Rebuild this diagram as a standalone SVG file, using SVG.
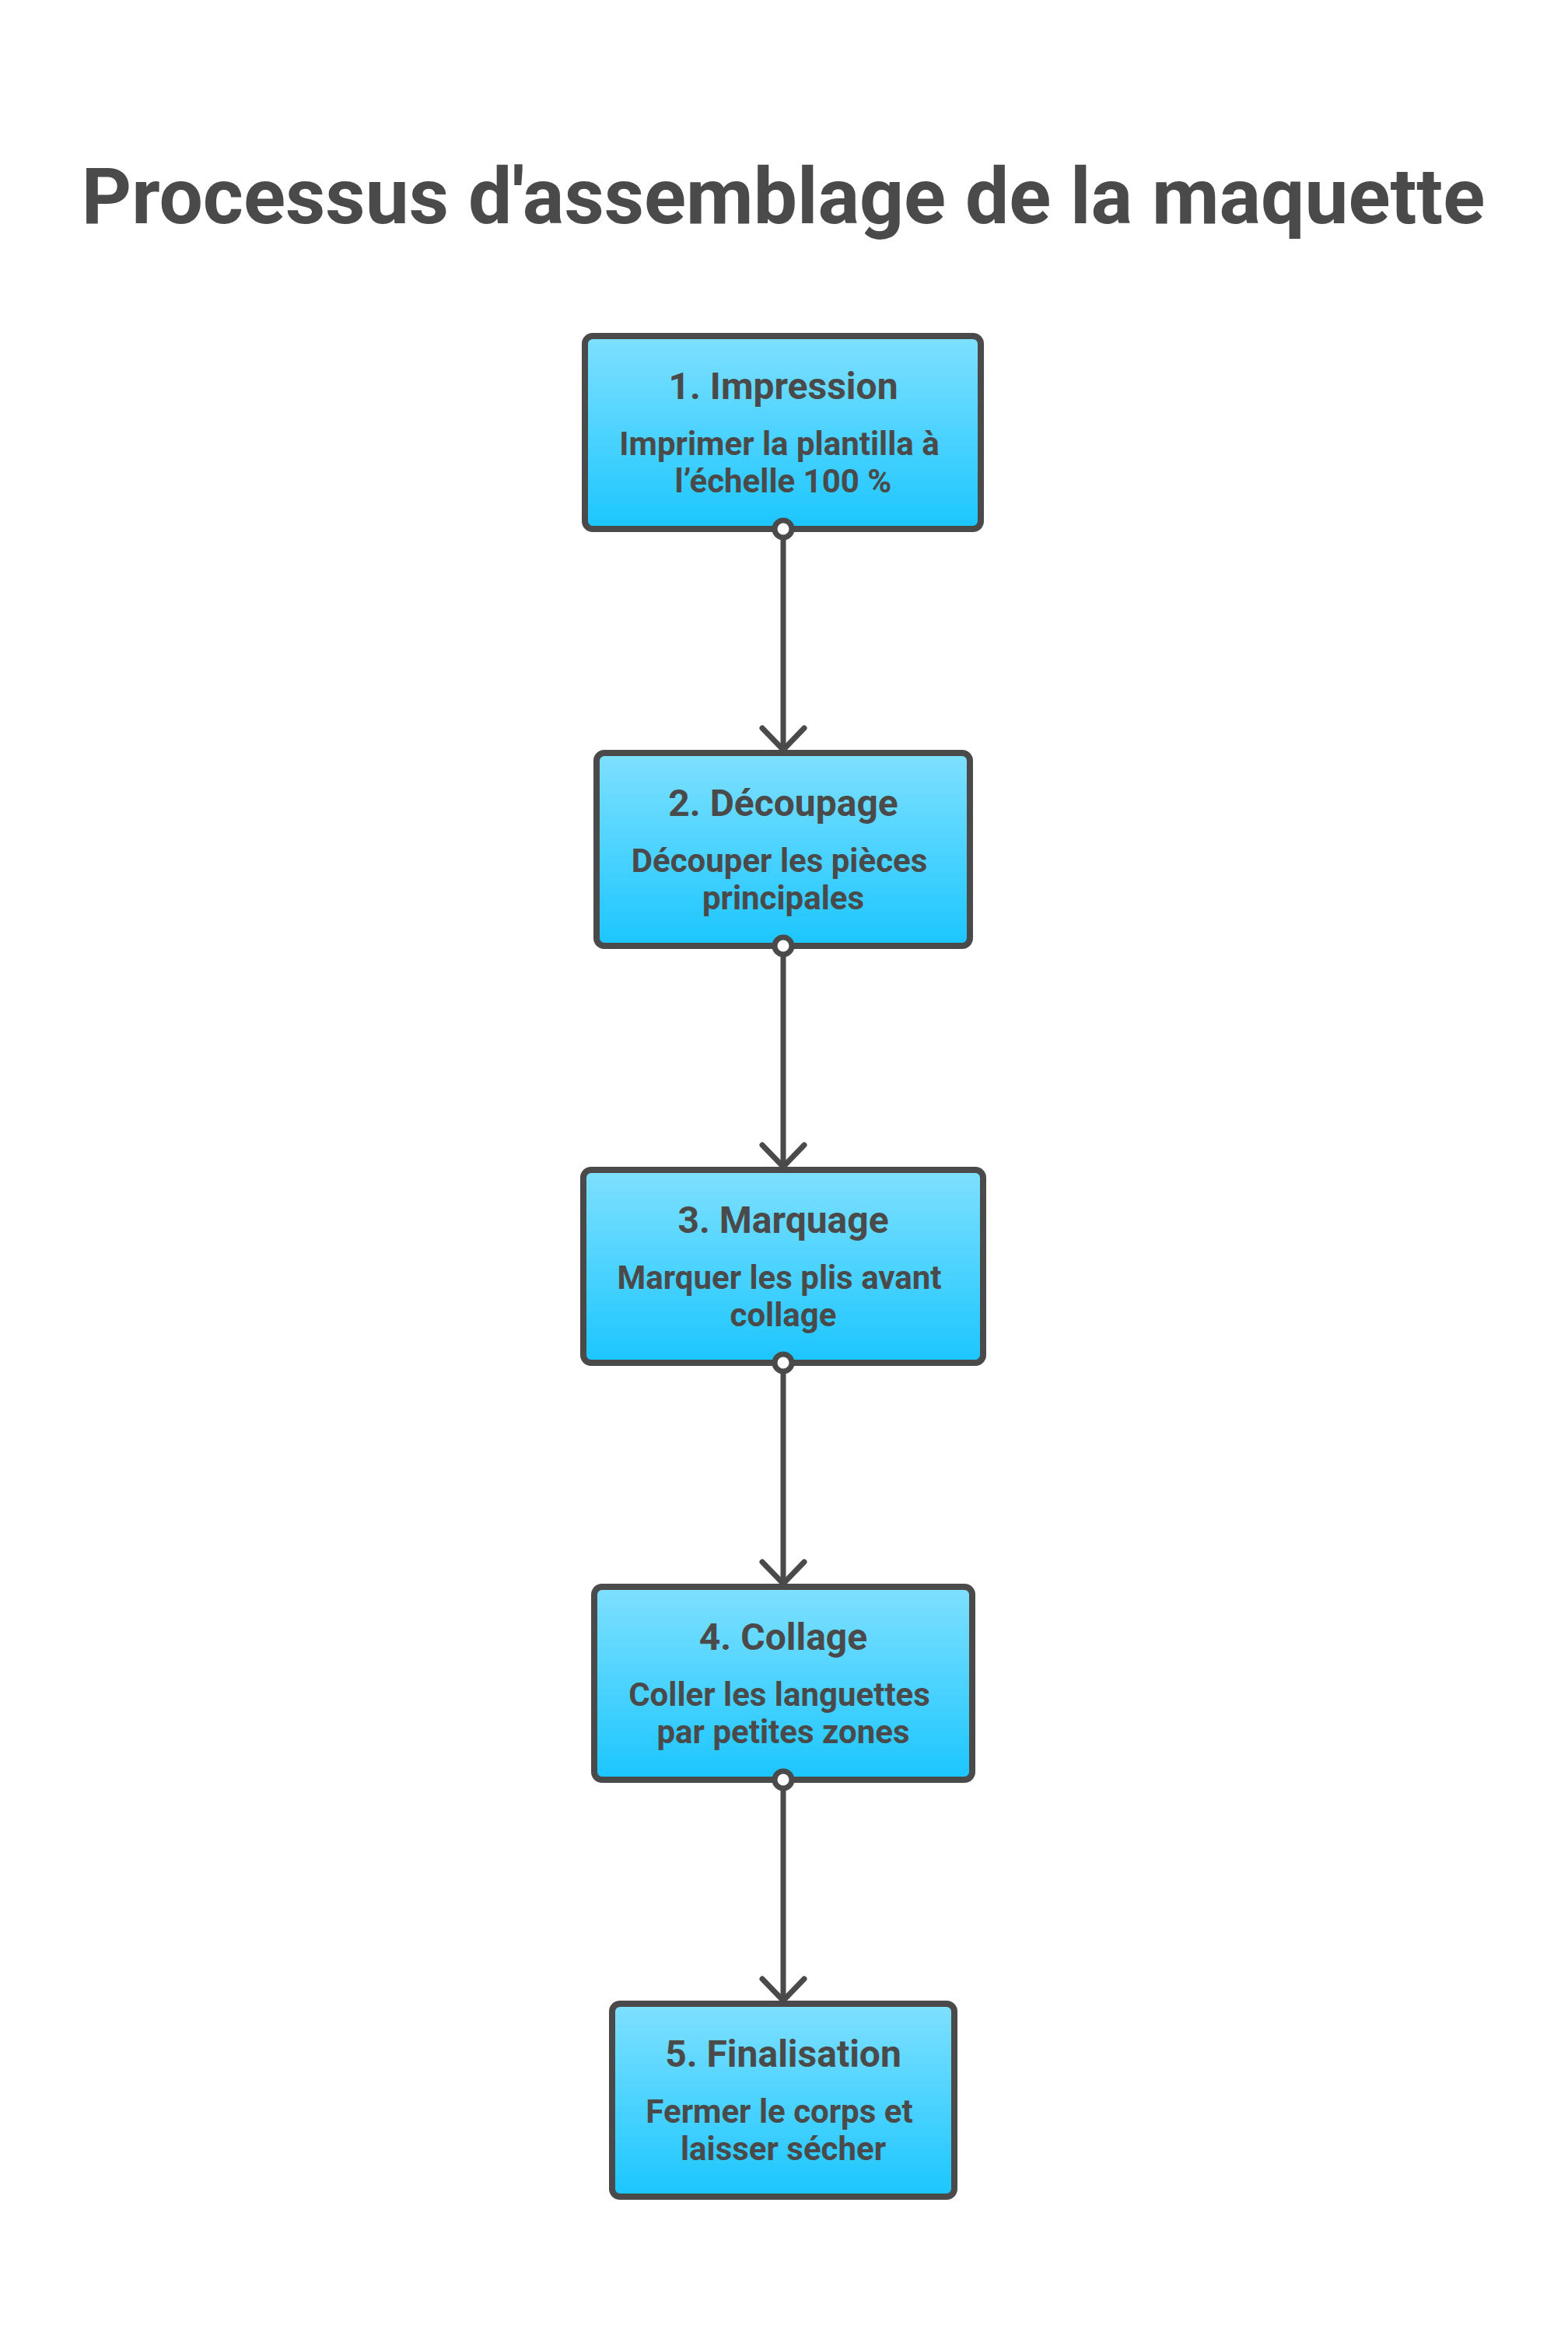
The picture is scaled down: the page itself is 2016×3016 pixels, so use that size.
<svg xmlns="http://www.w3.org/2000/svg" width="2016" height="3016" viewBox="0 0 2016 3016">
  <defs>
    <linearGradient id="boxFill" x1="0" y1="0" x2="0" y2="1">
      <stop offset="0" stop-color="#7fe0ff"/>
      <stop offset="1" stop-color="#1bc6fe"/>
    </linearGradient>
    <marker id="arrow" markerUnits="userSpaceOnUse" orient="auto" refX="0" refY="0" markerWidth="80" markerHeight="80" viewBox="-40 -40 80 80" overflow="visible">
      <path d="M-28,-27 L0,0 L-28,27" fill="none" stroke="#4a4a4a" stroke-width="7" stroke-linecap="round" stroke-linejoin="round"/>
    </marker>
    <marker id="dot" markerUnits="userSpaceOnUse" orient="auto" refX="0" refY="0" markerWidth="40" markerHeight="40" viewBox="-20 -20 40 40" overflow="visible">
      <circle cx="0" cy="0" r="11" fill="#ffffff" stroke="#4a4a4a" stroke-width="7"/>
    </marker>
    <style>
      .box { fill: url(#boxFill); stroke: #4a4a4a; stroke-width: 8; }
      .t { font-family: Roboto, "Liberation Sans", sans-serif; font-weight: 700; fill: #4a4a4a; text-anchor: middle; }
      .title { font-size: 100px; }
      .head { font-size: 48px; }
      .desc { font-size: 42px; }
      .conn { fill: none; stroke: #4a4a4a; stroke-width: 7; marker-start: url(#dot); marker-end: url(#arrow); }
    </style>
  </defs>
  <rect x="0" y="0" width="2016" height="3016" fill="#ffffff"/>
  <text class="t title" x="1007" y="287">Processus d'assemblage de la maquette</text>

  <g id="node-1">
    <rect class="box" x="752" y="432" width="509" height="248" rx="10"/>
    <text class="t head" x="1007" y="513">1. Impression</text>
    <text class="t desc" x="1002" y="585">Imprimer la plantilla à</text>
    <text class="t desc" x="1007" y="633">l’échelle 100 %</text>
  </g>
  <g id="node-2">
    <rect class="box" x="767" y="968" width="480" height="248" rx="10"/>
    <text class="t head" x="1007" y="1049">2. Découpage</text>
    <text class="t desc" x="1002" y="1121">Découper les pièces</text>
    <text class="t desc" x="1007" y="1169">principales</text>
  </g>
  <g id="node-3">
    <rect class="box" x="750" y="1504" width="514" height="248" rx="10"/>
    <text class="t head" x="1007" y="1585">3. Marquage</text>
    <text class="t desc" x="1002" y="1657">Marquer les plis avant</text>
    <text class="t desc" x="1007" y="1705">collage</text>
  </g>
  <g id="node-4">
    <rect class="box" x="764" y="2040" width="486" height="248" rx="10"/>
    <text class="t head" x="1007" y="2121">4. Collage</text>
    <text class="t desc" x="1002" y="2193">Coller les languettes</text>
    <text class="t desc" x="1007" y="2241">par petites zones</text>
  </g>
  <g id="node-5">
    <rect class="box" x="787" y="2576" width="440" height="248" rx="10"/>
    <text class="t head" x="1007" y="2657">5. Finalisation</text>
    <text class="t desc" x="1002" y="2729">Fermer le corps et</text>
    <text class="t desc" x="1007" y="2777">laisser sécher</text>
  </g>

  <g id="connectors">
    <line class="conn" x1="1007" y1="680" x2="1007" y2="964"/>
    <line class="conn" x1="1007" y1="1216" x2="1007" y2="1500"/>
    <line class="conn" x1="1007" y1="1752" x2="1007" y2="2036"/>
    <line class="conn" x1="1007" y1="2288" x2="1007" y2="2572"/>
  </g>
</svg>
